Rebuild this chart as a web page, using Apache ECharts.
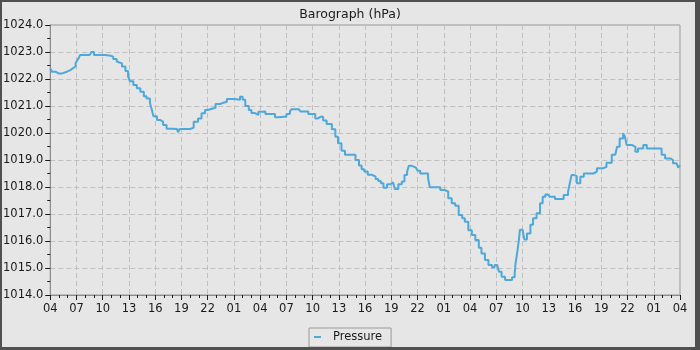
<!DOCTYPE html>
<html>
<head>
<meta charset="utf-8">
<script src="https://cdn.jsdelivr.net/npm/echarts@6/dist/echarts.min.js"></script>
<style>
html,body{margin:0;padding:0;background:#e6e6e6;}
#chart{width:700px;height:350px;}
</style>
</head>
<body>
<div id="chart"></div>
<script>
// Hours since start (04:00 day 1), 0..72
var hours = [0.0,0.2,0.6,1.0,1.3,1.9,2.3,2.6,2.9,3.1,3.3,3.4,4.0,4.5,4.7,5.0,6.0,6.3,6.9,7.2,7.6,7.8,8.2,8.6,8.9,9.1,9.5,9.9,10.3,10.7,11.0,11.4,11.6,11.8,12.2,12.6,12.9,13.3,13.9,14.5,14.6,14.8,15.6,16.0,16.4,16.9,17.3,17.7,18.0,18.6,18.9,19.4,19.8,20.2,21.1,21.3,21.7,22.0,22.3,22.7,23.0,23.4,23.8,24.2,24.6,25.1,25.7,26.1,26.7,27.0,27.4,27.6,28.4,28.6,29.1,29.5,29.9,30.3,30.6,30.9,31.2,31.6,32.2,32.6,32.9,33.3,33.7,34.5,34.9,35.3,35.6,35.9,36.3,36.8,37.2,37.5,37.8,38.1,38.5,38.9,39.2,39.4,39.8,40.2,40.5,40.8,41.0,41.3,41.8,42.0,42.3,42.9,43.2,43.4,44.3,44.6,45.1,45.5,45.9,46.3,46.7,47.1,47.4,47.8,48.2,48.6,49.0,49.3,49.7,50.1,50.5,50.8,51.1,51.3,51.6,52.0,52.4,52.8,53.1,53.2,53.4,53.6,53.7,54.0,54.2,54.5,54.9,55.2,55.6,56.0,56.3,56.6,56.9,57.1,57.7,58.3,58.7,59.2,59.4,59.6,59.9,60.2,60.6,61.0,61.5,62.1,62.5,63.2,63.6,64.2,64.6,64.8,65.1,65.5,65.7,65.9,66.5,66.9,67.2,67.8,68.2,69.5,69.9,70.3,70.9,71.2,71.6,71.8,72.0];
var pressure = [1022.40,1022.27,1022.20,1022.20,1022.27,1022.33,1022.40,1022.47,1022.58,1022.70,1022.80,1022.89,1022.89,1022.96,1023.00,1022.89,1022.89,1022.86,1022.83,1022.74,1022.65,1022.58,1022.46,1022.30,1022.10,1021.92,1021.78,1021.66,1021.53,1021.36,1021.28,1021.10,1020.88,1020.62,1020.48,1020.42,1020.30,1020.16,1020.15,1020.15,1020.03,1020.15,1020.15,1020.20,1020.42,1020.54,1020.73,1020.85,1020.91,1020.93,1021.07,1021.12,1021.16,1021.26,1021.26,1021.23,1021.34,1021.23,1021.00,1020.85,1020.74,1020.67,1020.79,1020.80,1020.70,1020.70,1020.58,1020.60,1020.60,1020.70,1020.80,1020.88,1020.88,1020.80,1020.80,1020.70,1020.70,1020.54,1020.60,1020.60,1020.46,1020.33,1020.14,1019.86,1019.62,1019.34,1019.19,1019.19,1019.00,1018.80,1018.66,1018.57,1018.45,1018.38,1018.30,1018.22,1018.14,1017.97,1018.10,1018.17,1018.10,1017.93,1018.10,1018.20,1018.44,1018.57,1018.79,1018.72,1018.72,1018.60,1018.50,1018.50,1018.32,1017.99,1017.99,1017.89,1017.83,1017.58,1017.40,1017.31,1016.96,1016.84,1016.71,1016.40,1016.22,1016.04,1015.75,1015.54,1015.30,1015.11,1015.03,1015.11,1015.11,1014.86,1014.68,1014.56,1014.56,1014.66,1014.80,1015.17,1015.60,1016.10,1016.42,1016.42,1016.06,1016.28,1016.60,1016.84,1017.03,1017.40,1017.64,1017.72,1017.79,1017.64,1017.56,1017.56,1017.70,1017.83,1018.14,1018.44,1018.40,1018.14,1018.38,1018.50,1018.50,1018.57,1018.69,1018.75,1018.90,1019.19,1019.25,1019.49,1019.80,1019.99,1019.86,1019.56,1019.49,1019.31,1019.43,1019.56,1019.43,1019.43,1019.19,1019.06,1019.00,1018.88,1018.81,1018.72,1018.80];
var xTickLabels = ['04','07','10','13','16','19','22','01','04','07','10','13','16','19','22','01','04','07','10','13','16','19','22','01','04'];
var seriesName = 'Pressure';
var titleText = 'Barograph (hPa)';

var data = hours.map(function (h, i) { return [h, pressure[i]]; });
var FONT = 'DejaVu Sans';
var chart = echarts.init(document.getElementById('chart'), null, {renderer: 'canvas'});
chart.setOption({
  backgroundColor: '#e6e6e6',
  animation: false,
  title: {
    text: titleText, left: 'center', top: 3,
    textStyle: {fontFamily: FONT, fontSize: 12.5, fontWeight: 'normal', color: '#1a1a1a'}
  },
  legend: {
    data: [seriesName], left: 309, top: 328,
    padding: [3, 9, 4, 5],
    borderColor: '#9a9a9a', borderWidth: 1, backgroundColor: '#e6e6e6',
    icon: 'rect', itemWidth: 7, itemHeight: 2,
    textStyle: {fontFamily: FONT, fontSize: 11.5, color: '#1a1a1a', padding: [0, 0, 0, 7]}
  },
  grid: {left: 50, right: 20, top: 25, bottom: 55, show: true, borderColor: '#999999', borderWidth: 1, backgroundColor: 'transparent'},
  xAxis: {
    type: 'value', min: 0, max: 72, interval: 3,
    axisLine: {onZero: false, lineStyle: {color: '#8c8c8c', width: 1}},
    axisTick: {show: true, length: 5, lineStyle: {color: '#1a1a1a'}},
    minorTick: {show: true, splitNumber: 3, length: 3, lineStyle: {color: '#1a1a1a'}},
    axisLabel: {
      fontFamily: FONT, fontSize: 11.5, color: '#1a1a1a', margin: 8,
      formatter: function (v) { return xTickLabels[Math.round(v / 3)]; }
    },
    splitLine: {show: true, lineStyle: {color: '#c0c0c0', type: [5, 3], width: 1}}
  },
  yAxis: {
    type: 'value', min: 1014, max: 1024, interval: 1,
    axisLine: {show: true, lineStyle: {color: '#8c8c8c', width: 1}},
    axisTick: {show: true, length: 5, lineStyle: {color: '#1a1a1a'}},
    minorTick: {show: true, splitNumber: 2, length: 3, lineStyle: {color: '#1a1a1a'}},
    axisLabel: {
      fontFamily: FONT, fontSize: 11.5, color: '#1a1a1a', margin: 7,
      formatter: function (v) { return v.toFixed(1); }
    },
    splitLine: {show: true, lineStyle: {color: '#c0c0c0', type: [5, 3], width: 1}}
  },
  series: [{
    name: seriesName, type: 'line', data: data, step: 'end',
    showSymbol: false, symbol: 'none',
    lineStyle: {color: '#4ea8d8', width: 2},
    itemStyle: {color: '#4ea8d8'}
  }],
  graphic: [
    {type: 'rect', shape: {x: 0, y: 0, width: 700, height: 2}, style: {fill: '#505050'}, z: 100},
    {type: 'rect', shape: {x: 0, y: 347, width: 700, height: 3}, style: {fill: '#505050'}, z: 100},
    {type: 'rect', shape: {x: 0, y: 0, width: 2, height: 350}, style: {fill: '#505050'}, z: 100},
    {type: 'rect', shape: {x: 695, y: 0, width: 5, height: 350}, style: {fill: '#505050'}, z: 100}
  ]
});
</script>
</body>
</html>
